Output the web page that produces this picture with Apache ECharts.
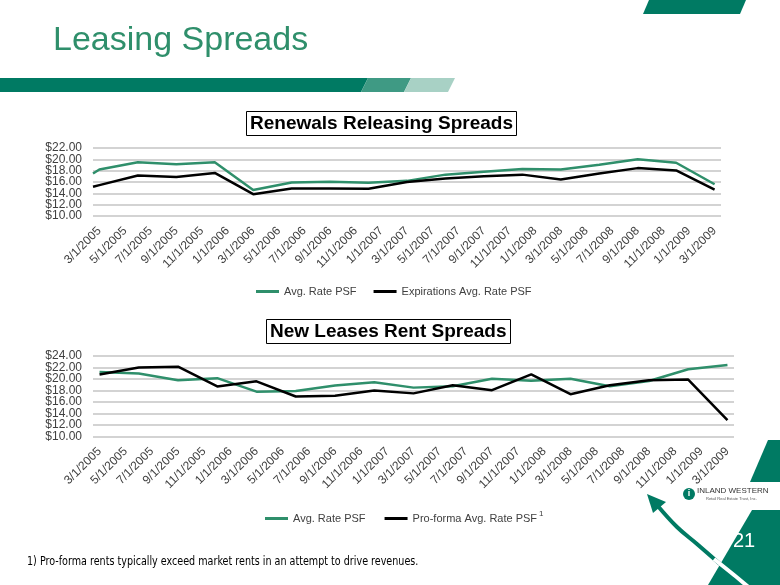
<!DOCTYPE html>
<html>
<head>
<meta charset="utf-8">
<script src="https://cdn.jsdelivr.net/npm/echarts@6/dist/echarts.min.js"></script>
<style>
  html, body { margin: 0; padding: 0; background: #fff; }
  #chart { width: 780px; height: 585px; }
</style>
</head>
<body>
<div id="chart"></div>
<script>
// tick labels on both date axes (every 2 months, first = month 0)
const dateLabels = [
  "3/1/2005", "5/1/2005", "7/1/2005", "9/1/2005", "11/1/2005",
  "1/1/2006", "3/1/2006", "5/1/2006", "7/1/2006", "9/1/2006", "11/1/2006",
  "1/1/2007", "3/1/2007", "5/1/2007", "7/1/2007", "9/1/2007", "11/1/2007",
  "1/1/2008", "3/1/2008", "5/1/2008", "7/1/2008", "9/1/2008", "11/1/2008",
  "1/1/2009", "3/1/2009"
];
const renewTicks = [10, 12, 14, 16, 18, 20, 22];
const newTicks = [10, 12, 14, 16, 18, 20, 22, 24];

// renewals: months after 3/1/2005
const renewMonths = [-0.5, 0, 3, 6, 9, 12, 15, 18, 21, 24, 27, 30, 33, 36, 39, 42, 45, 48];
const renewAvg = [17.5, 18.2, 19.5, 19.15, 19.5, 14.6, 15.9, 16.05, 15.85, 16.2, 17.3, 17.8, 18.3, 18.2, 19.05, 20.0, 19.4, 15.6];
const renewExp = [15.15, 15.45, 17.15, 16.9, 17.6, 13.85, 14.85, 14.85, 14.8, 16.0, 16.6, 17.0, 17.3, 16.45, 17.5, 18.45, 18.05, 14.65];

// new leases
const newMonths = [0, 3, 6, 9, 12, 15, 18, 21, 24, 27, 30, 33, 36, 39, 42, 45, 48];
const newAvg = [21.2, 20.95, 19.8, 20.15, 17.8, 17.9, 18.85, 19.45, 18.5, 18.75, 20.05, 19.7, 20.05, 18.75, 19.65, 21.7, 22.45];
const newProforma = [20.8, 22.0, 22.15, 18.7, 19.6, 16.95, 17.1, 18.0, 17.5, 18.9, 18.05, 20.8, 17.35, 18.9, 19.8, 19.9, 12.85];

const GREEN = "#2f8f6b";
const TEAL = "#007a63";
const FONT = "Liberation Sans, Arial, sans-serif";

function pairs(xs, ys) {
  return xs.map((x, i) => [x, ys[i]]);
}

function xAxisOpt(gridIndex) {
  return {
    type: "value",
    gridIndex: gridIndex,
    min: -0.5,
    max: 48.5,
    splitLine: { show: false },
    axisLine: { show: false },
    axisTick: { show: false },
    axisLabel: {
      customValues: dateLabels.map((_, i) => i * 2),
      formatter: (v) => dateLabels[Math.round(v / 2)],
      rotate: 45,
      margin: 13,
      fontSize: 12,
      hideOverlap: false,
      color: "#404040",
      fontFamily: FONT
    }
  };
}

// labels are split over two axes (alternate ticks) so none get dropped as overlapping
function yAxisOpt(gridIndex, ticks, part) {
  return {
    type: "value",
    gridIndex: gridIndex,
    position: "left",
    min: ticks[0],
    max: ticks[ticks.length - 1],
    interval: 2,
    axisLine: { show: false },
    axisTick: { show: false },
    splitLine: { show: part === 0, lineStyle: { color: "#c4c4c4", width: 1.5 } },
    axisLabel: {
      customValues: ticks.filter((_, i) => i % 2 === part),
      formatter: (v) => "$" + v.toFixed(2),
      margin: 11,
      fontSize: 12,
      showMinLabel: true,
      showMaxLabel: true,
      hideOverlap: false,
      color: "#404040",
      fontFamily: FONT
    }
  };
}

function lineSeries(name, color, xi, yi, data) {
  return {
    name: name,
    type: "line",
    xAxisIndex: xi,
    yAxisIndex: yi,
    data: data,
    showSymbol: false,
    symbol: "none",
    lineStyle: { color: color, width: 2.5 },
    itemStyle: { color: color }
  };
}

const chart = echarts.init(document.getElementById("chart"), null, { renderer: "canvas" });

const option = {
  animation: false,
  backgroundColor: "#fff",
  title: [
    {
      text: "Leasing Spreads",
      left: 48,
      top: 19,
      textStyle: { color: GREEN, fontSize: 34, fontWeight: "normal", fontFamily: FONT }
    },
    {
      text: "Renewals Releasing Spreads",
      left: 246,
      top: 111,
      padding: [3, 4, 3, 4],
      borderColor: "#000",
      borderWidth: 1,
      textStyle: { color: "#000", fontSize: 19, fontWeight: "bold", fontFamily: FONT }
    },
    {
      text: "New Leases Rent Spreads",
      left: 266,
      top: 319,
      padding: [3, 4, 3, 4],
      borderColor: "#000",
      borderWidth: 1,
      textStyle: { color: "#000", fontSize: 19, fontWeight: "bold", fontFamily: FONT }
    }
  ],
  grid: [
    { left: 93, right: 59, top: 148, height: 68 },
    { left: 93, right: 46, top: 356, height: 80.5 }
  ],
  xAxis: [xAxisOpt(0), xAxisOpt(1)],
  yAxis: [
    yAxisOpt(0, renewTicks, 0),
    yAxisOpt(0, renewTicks, 1),
    yAxisOpt(1, newTicks, 0),
    yAxisOpt(1, newTicks, 1)
  ],
  legend: [
    {
      data: ["Avg. Rate PSF", "Expirations Avg. Rate PSF"],
      left: 251,
      top: 281,
      icon: "rect",
      itemWidth: 23,
      itemHeight: 3,
      itemGap: 17,
      textStyle: { fontSize: 11, color: "#404040", fontFamily: FONT }
    },
    {
      data: ["Avg. Rate PSF ", "Pro-forma Avg. Rate PSF"],
      left: 260,
      top: 505,
      icon: "rect",
      itemWidth: 23,
      itemHeight: 3,
      itemGap: 19,
      formatter: (name) => name === "Pro-forma Avg. Rate PSF" ? "{t|" + name + "}{s|1}" : "{t|" + name.trim() + "}",
      textStyle: {
        fontSize: 11,
        color: "#404040",
        fontFamily: FONT,
        rich: {
          t: { fontSize: 11, color: "#404040", fontFamily: FONT },
          s: { fontSize: 8, color: "#404040", fontFamily: FONT, verticalAlign: "bottom", padding: [0, 0, 9, 2] }
        }
      }
    }
  ],
  series: [
    lineSeries("Avg. Rate PSF", GREEN, 0, 0, pairs(renewMonths, renewAvg)),
    lineSeries("Expirations Avg. Rate PSF", "#000", 0, 0, pairs(renewMonths, renewExp)),
    lineSeries("Avg. Rate PSF ", GREEN, 1, 2, pairs(newMonths, newAvg)),
    lineSeries("Pro-forma Avg. Rate PSF", "#000", 1, 2, pairs(newMonths, newProforma))
  ],
  graphic: [
    // header bars
    { type: "polygon", shape: { points: [[0, 78], [368, 78], [361, 92], [0, 92]] }, style: { fill: TEAL } },
    { type: "polygon", shape: { points: [[368, 78], [411, 78], [404, 92], [361, 92]] }, style: { fill: "#3f9a84" } },
    { type: "polygon", shape: { points: [[411, 78], [455, 78], [448, 92], [404, 92]] }, style: { fill: "#a8d1c5" } },
    { type: "polygon", shape: { points: [[649, 0], [746, 0], [740, 14], [643, 14]] }, style: { fill: TEAL } },
    // lower right decoration
    { type: "polygon", shape: { points: [[768, 440], [780, 440], [780, 482], [750, 482]] }, style: { fill: TEAL } },
    {
      type: "polyline", z: 5,
      shape: { points: [[657, 505], [677, 527], [697, 544], [720, 564]], smooth: 0.4 },
      style: { stroke: TEAL, lineWidth: 4, fill: null }
    },
    { type: "polygon", z: 5, shape: { points: [[647, 494], [653, 513], [666, 502]] }, style: { fill: TEAL } },
    { type: "polygon", z: 6, shape: { points: [[752, 510], [780, 510], [780, 585], [708, 585]] }, style: { fill: TEAL } },
    {
      type: "polyline", z: 7,
      shape: { points: [[714, 559], [734, 575], [752, 590]], smooth: 0.3 },
      style: { stroke: "#fff", lineWidth: 4, fill: null }
    },
    { type: "text", z: 8, x: 744, y: 541, style: { text: "21", fill: "#fff", fontSize: 20, fontFamily: FONT, align: "center", verticalAlign: "middle" } },
    // logo
    { type: "circle", z: 5, shape: { cx: 689, cy: 494, r: 6 }, style: { fill: TEAL } },
    { type: "text", z: 6, x: 689, y: 494, style: { text: "i", fill: "#fff", fontSize: 9, fontWeight: "bold", fontFamily: FONT, align: "center", verticalAlign: "middle" } },
    { type: "text", z: 5, x: 697, y: 491, style: { text: "INLAND WESTERN", fill: "#333", fontSize: 8, fontFamily: FONT, verticalAlign: "middle" } },
    { type: "text", z: 5, x: 706, y: 499, style: { text: "Retail Real Estate Trust, Inc.", fill: "#555", fontSize: 4, fontFamily: FONT, verticalAlign: "middle" } },
    // footnote
    {
      type: "text", x: 27, y: 562, scaleX: 0.82,
      style: {
        text: "1) Pro-forma rents typically exceed market rents in an attempt to drive revenues.",
        fill: "#000", fontSize: 13, fontFamily: "Liberation Sans Narrow, DejaVu Sans Condensed, sans-serif",
        verticalAlign: "middle"
      }
    }
  ]
};

chart.setOption(option);
</script>
</body>
</html>
